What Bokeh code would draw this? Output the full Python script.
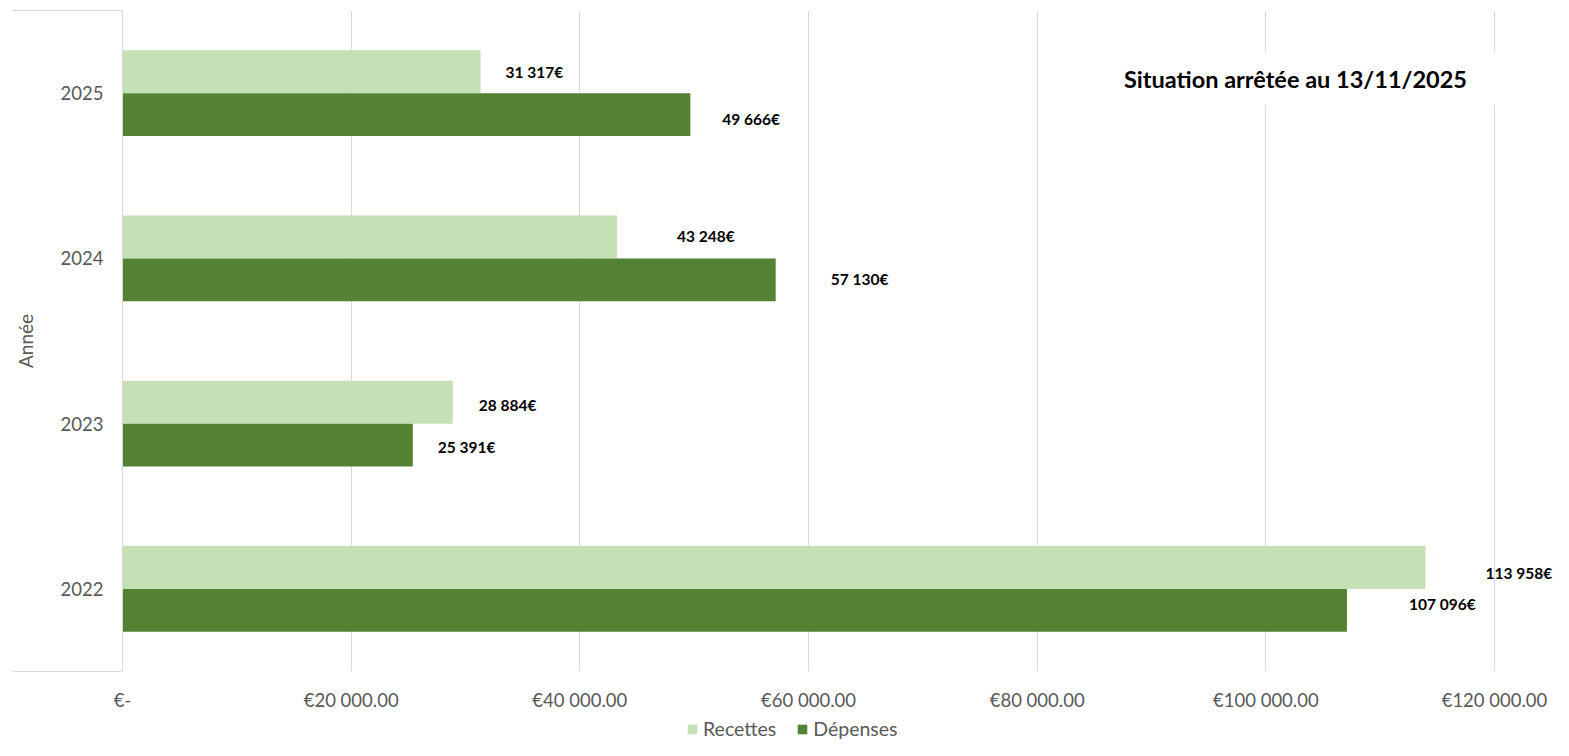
from bokeh.plotting import figure
from bokeh.layouts import column
from bokeh.models import ColumnDataSource, FixedTicker, Legend, LegendItem, Label
from bokeh.core.properties import value
from bokeh.embed import file_html
from bokeh.resources import INLINE

# ---- data ----
years = ["2022", "2023", "2024", "2025"]
recettes = [113958, 28884, 43248, 31317]
depenses = [107096, 25391, 57130, 49666]
series_names = ["Recettes", "Dépenses"]
x_ticks = [0, 20000, 40000, 60000, 80000, 100000, 120000]
x_tick_labels = ["€-", "€20 000.00", "€40 000.00", "€60 000.00",
                 "€80 000.00", "€100 000.00", "€120 000.00"]
title_text = "Situation arrêtée au 13/11/2025"
y_axis_title = "Année"

# ---- layout / style (label nudges in pixels, as placed in the original) ----
rec_dx = [60, 26, 60, 25]
rec_dy = [6, 3, -1, 0]
dep_dx = [62, 25, 55, 32]
dep_dy = [-6, 2, -1, 4]
LIGHT = "#C5E0B4"
DARK = "#548235"
GRID = "#D9D9D9"
TXT = "#595959"
FONT = "Lato"
BAR_H = 0.26
SEP = 110  # length of the category-axis separator ticks
W = 1553
H_MAIN = 716
H_LEG = 24
LEFT = 122


def eur(v):
    return f"{v:,}".replace(",", " ") + "€"


centers = [i + 0.5 for i in range(len(years))]

src_rec = ColumnDataSource(dict(
    y=[c + BAR_H / 2 for c in centers], x=recettes,
    label=[eur(v) for v in recettes], dx=rec_dx, dy=rec_dy))
src_dep = ColumnDataSource(dict(
    y=[c - BAR_H / 2 for c in centers], x=depenses,
    label=[eur(v) for v in depenses], dx=dep_dx, dy=dep_dy))

p = figure(width=W, height=H_MAIN, x_range=(0, 125160), y_range=(0, len(years)),
           output_backend="svg", toolbar_location=None,
           min_border_left=LEFT, min_border_top=10, min_border_right=0, min_border_bottom=45)
p.outline_line_color = None
p.background_fill_color = "white"
p.border_fill_color = "white"

r_rec = p.hbar(y="y", right="x", left=0, height=BAR_H, source=src_rec,
               fill_color=LIGHT, line_color=None)
r_dep = p.hbar(y="y", right="x", left=0, height=BAR_H, source=src_dep,
               fill_color=DARK, line_color=None)

for src in (src_rec, src_dep):
    p.text(x="x", y="y", text="label", x_offset="dx", y_offset="dy", source=src,
           text_font=value(FONT), text_font_style="bold", text_font_size="15.5px",
           text_baseline="middle", text_align="left", text_color="black")

# grid
p.ygrid.visible = False
p.xgrid.ticker = FixedTicker(ticks=x_ticks)
p.xgrid.grid_line_color = GRID
p.xgrid.grid_line_width = 1

# x axis
xa = p.xaxis[0]
xa.ticker = FixedTicker(ticks=x_ticks)
xa.major_label_overrides = {t: l for t, l in zip(x_ticks, x_tick_labels)}
xa.axis_line_color = None
xa.major_tick_line_color = None
xa.minor_tick_line_color = None
xa.major_tick_out = 0
xa.major_tick_in = 0
xa.major_label_standoff = 17
xa.major_label_text_font = FONT
xa.major_label_text_font_size = "18.5px"
xa.major_label_text_color = TXT

# y axis
ya = p.yaxis[0]
ya.ticker = FixedTicker(ticks=centers, minor_ticks=[0, len(years)])
ya.major_label_overrides = {c: y for c, y in zip(centers, years)}
ya.axis_line_color = GRID
ya.major_tick_out = 0
ya.major_tick_in = 0
ya.major_tick_line_color = None
ya.minor_tick_in = 0
ya.minor_tick_out = SEP
ya.minor_tick_line_color = GRID
ya.major_label_standoff = 19 - SEP
ya.major_label_text_font = FONT
ya.major_label_text_font_size = "18.5px"
ya.major_label_text_color = TXT
ya.axis_label = y_axis_title
ya.axis_label_standoff = 21
ya.axis_label_text_font = FONT
ya.axis_label_text_font_style = "normal"
ya.axis_label_text_font_size = "19px"
ya.axis_label_text_color = TXT

# title box
title = Label(x=102595, y=3.588, text=title_text, text_align="center", text_baseline="middle",
              text_font=FONT, text_font_style="bold", text_font_size="23.5px", text_color="black",
              background_fill_color="white",
              padding=dict(left=28, right=28, top=12, bottom=12))
p.add_layout(title)

# ---- legend strip below the chart ----
# (same series, hidden; only their legend entries show)
lf = figure(width=W, height=H_LEG, x_range=(0, 1), y_range=(0, 1),
            output_backend="svg", toolbar_location=None,
            min_border_left=0, min_border_right=0, min_border_top=0, min_border_bottom=0)
lf.axis.visible = False
lf.grid.visible = False
lf.outline_line_color = None
l_rec = lf.hbar(y="y", right="x", left=0, height=BAR_H, source=src_rec,
                fill_color=LIGHT, line_color=None, visible=False)
l_dep = lf.hbar(y="y", right="x", left=0, height=BAR_H, source=src_dep,
                fill_color=DARK, line_color=None, visible=False)
legend = Legend(items=[LegendItem(label=series_names[0], renderers=[l_rec]),
                       LegendItem(label=series_names[1], renderers=[l_dep])],
                orientation="horizontal", location=(686 - LEFT, 0),
                glyph_width=12, glyph_height=12, label_height=22, label_standoff=5,
                spacing=20, padding=0, margin=0,
                inactive_fill_alpha=0,
                label_text_font=FONT, label_text_font_size="19.5px", label_text_color=TXT,
                border_line_color=None, background_fill_alpha=0)
lf.add_layout(legend)

layout = column(p, lf, spacing=0)
open("out.html", "w").write(file_html(layout, INLINE))
